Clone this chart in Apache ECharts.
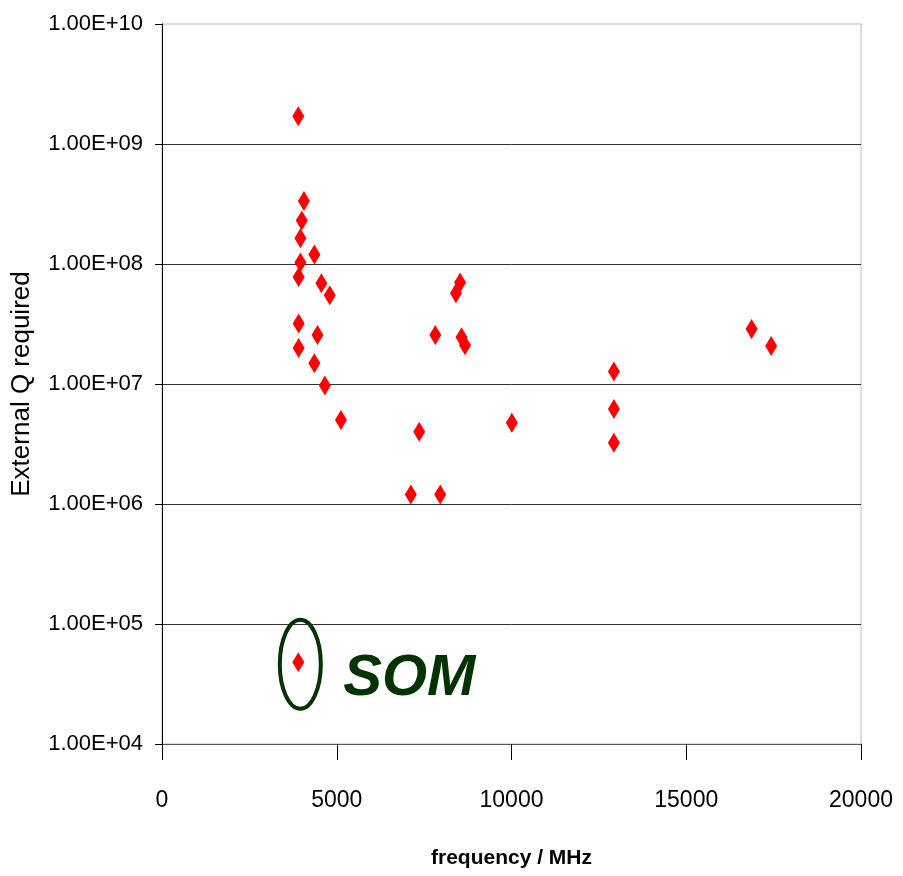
<!DOCTYPE html>
<html>
<head>
<meta charset="utf-8">
<script src="https://cdn.jsdelivr.net/npm/echarts@6/dist/echarts.min.js"></script>
<style>
html,body{margin:0;padding:0;background:#fff;}
#chart{width:903px;height:876px;}
</style>
</head>
<body>
<div id="chart"></div>
<script>
// Data (frequency in MHz, external Q required)
const freq = [3900, 4060, 4000, 3960, 4360, 3960, 3910, 4560, 4800, 3910, 4450, 3910, 4360, 4660, 5120,
              8530, 8410, 7820, 8570, 8670, 7360, 10010, 7120, 7960, 16870, 17430, 12930, 12930, 12930];
const qExt = [1.7e9, 3.35e8, 2.3e8, 1.64e8, 1.2e8, 1.03e8, 7.8e7, 6.9e7, 5.5e7, 3.2e7, 2.56e7, 2.0e7, 1.49e7, 9.7e6, 5.0e6,
              7.0e7, 5.7e7, 2.56e7, 2.45e7, 2.1e7, 4.0e6, 4.76e6, 1.2e6, 1.2e6, 2.87e7, 2.07e7, 1.27e7, 6.2e6, 3.24e6];
const somFreq = [3900];
const somQ = [4.8e4];
const somLabel = 'SOM';
const xTicks = [0, 5000, 10000, 15000, 20000];
const yMin = 1e4, yMax = 1e10;
const xName = 'frequency / MHz';
const yName = 'External Q required';

const narrow = '"Liberation Sans Narrow", "Arial Narrow", "Liberation Sans", Arial, sans-serif';

function fmtExp(v) {
  const e = Math.round(Math.log10(v));
  const m = v / Math.pow(10, e);
  const s = e < 0 ? '-' : '+';
  const ea = Math.abs(e);
  return m.toFixed(2) + 'E' + s + (ea < 10 ? '0' + ea : '' + ea);
}

const chart = echarts.init(document.getElementById('chart'), null, {renderer: 'canvas'});
const mainData = freq.map((f, i) => [f, qExt[i]]);
const somData = somFreq.map((f, i) => [f, somQ[i]]);

chart.setOption({
  animation: false,
  backgroundColor: '#fff',
  grid: {left: 162, right: 42, top: 24, bottom: 132, show: true, borderColor: '#bbbbbb', borderWidth: 1,
         containLabel: false, outerBoundsMode: 'none'},
  xAxis: {
    type: 'value',
    min: xTicks[0], max: xTicks[xTicks.length - 1], interval: xTicks[1] - xTicks[0],
    name: xName, nameLocation: 'middle', nameGap: 104,
    nameTextStyle: {fontFamily: narrow, fontWeight: 'bold', fontSize: 21, color: '#000'},
    axisLine: {show: true, onZero: false, lineStyle: {color: '#555', width: 1}},
    axisTick: {show: true, length: 16, lineStyle: {color: '#000'}},
    axisLabel: {margin: 45, fontFamily: narrow, fontSize: 23, color: '#000', formatter: v => String(v)},
    splitLine: {show: false}
  },
  yAxis: {
    type: 'log', logBase: 10, min: yMin, max: yMax,
    name: yName, nameLocation: 'middle', nameGap: 127,
    nameTextStyle: {fontFamily: narrow, fontSize: 26, color: '#000'},
    axisLine: {show: true, lineStyle: {color: '#000', width: 1}},
    axisTick: {show: true, length: 7, lineStyle: {color: '#000'}},
    axisLabel: {margin: 19, fontFamily: narrow, fontSize: 22, color: '#000', formatter: fmtExp},
    splitLine: {show: true, showMaxLine: false, lineStyle: {color: '#333', width: 1}}
  },
  series: [
    {type: 'scatter', data: mainData, symbol: 'diamond', symbolSize: [12, 20], itemStyle: {color: '#ff0000', opacity: 1}},
    {type: 'scatter', data: somData, symbol: 'diamond', symbolSize: [12, 20], itemStyle: {color: '#ff0000', opacity: 1}}
  ]
});

const p = chart.convertToPixel({gridIndex: 0}, somData[0]);
chart.setOption({
  graphic: [
    {type: 'ellipse', shape: {cx: p[0] + 2, cy: p[1] + 2, rx: 20.5, ry: 44.5},
     style: {fill: 'none', stroke: '#003300', lineWidth: 4}, z: 10},
    {type: 'text', x: p[0] + 45, y: p[1] + 17,
     style: {text: somLabel, font: 'italic bold 58px "Liberation Sans", Arial, sans-serif', fill: '#003300',
             verticalAlign: 'middle', align: 'left'}, z: 10}
  ]
});
</script>
</body>
</html>
